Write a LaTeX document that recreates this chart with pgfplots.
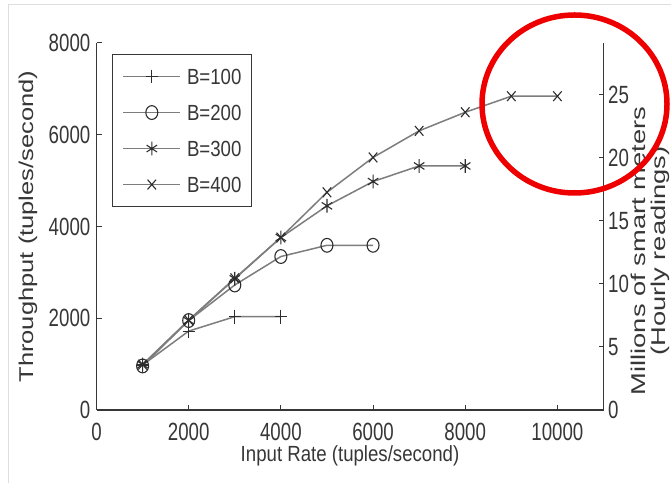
\documentclass[border=0pt]{standalone}
\usepackage{pgfplots}
\pgfplotsset{compat=1.18}
\usepackage{fontspec}
\setmainfont{Liberation Sans}
\newfontfamily\tickfont{Liberation Sans}[FakeStretch=0.75]
\newfontfamily\hfont{Liberation Sans}[FakeStretch=0.85]
\newfontfamily\yfont{Liberation Sans}[FakeStretch=1.28]
\newfontfamily\rfont{Liberation Sans}[FakeStretch=1.37]
\definecolor{axisc}{RGB}{55,55,55}
\definecolor{linec}{RGB}{125,125,125}
\definecolor{markc}{RGB}{45,45,45}
\definecolor{reda}{RGB}{238,0,0}
\pgfplotsset{
  common/.style={
    at={(96.5bp,73bp)}, anchor=south west,
    scale only axis, width=507bp, height=367bp,
    xmin=0, xmax=11000,
    axis line style={axisc, line width=1.1bp},
    every tick/.style={axisc, line width=1bp},
    major tick length=5bp, tick align=inside,
    scaled ticks=false,
    /pgf/number format/1000 sep={},
    /pgf/number format/assume math mode=true,
    tick label style={font=\fontsize{25}{25}\tickfont, text=axisc, inner sep=0pt},
  },
  ser/.style={linec, line width=1.5bp, mark size=6bp,
    mark options={markc, solid, line width=1.1bp, yscale=1.15}},
}
\begin{document}
\begin{tikzpicture}[x=1bp,y=1bp]
\useasboundingbox (0,0) rectangle (671,483);
\fill[white] (0,0) rectangle (671,483);
\draw[black!13, line width=1bp] (8,0) -- (8,478) -- (671,478);
\begin{axis}[common,
  ymin=0, ymax=8000,
  axis x line*=bottom, axis y line*=left,
  xtick={0,2000,...,10000}, ytick={0,2000,...,8000},
  xticklabel style={yshift=-13bp},
  yticklabel style={xshift=-6bp},
  xlabel={Input Rate (tuples/second)},
  xlabel style={at={(axis description cs:0.5,-0.0955)}, anchor=north,
    inner sep=0pt, font=\fontsize{22}{22}\hfont, text=axisc},
  ylabel={Throughput (tuples/second)},
  ylabel style={at={(axis description cs:-0.135,0.5)}, anchor=center,
    font=\fontsize{20}{20}\yfont, text=axisc},
  legend style={at={(axis description cs:0.0306,0.970)}, anchor=north west,
    draw=axisc, line width=1.1bp, fill=white,
    font=\fontsize{22}{22}\hfont, text=axisc,
    inner xsep=10bp, inner ysep=14bp, row sep=20bp, column sep=6bp,
    nodes={inner sep=0pt, text height=16bp, text depth=0bp}},
  legend cell align=left,
  legend image code/.code={\draw[#1, mark repeat=2, mark phase=2]
     plot coordinates {(0bp,0bp) (28.5bp,0bp) (57bp,0bp)};},
]
\addplot[ser, mark=+] coordinates {
 (1000,980) (2000,1720) (3000,2035) (4000,2035)};
\addlegendentry{B=100}
\addplot[ser, mark=o] coordinates {
 (1000,960) (2000,1950) (3000,2725) (4000,3345) (5000,3590) (6000,3590)};
\addlegendentry{B=200}
\addplot[ser, mark=asterisk] coordinates {
 (1000,990) (2000,1950) (3000,2860) (4000,3760) (5000,4450) (6000,4980) (7000,5320) (8000,5320)};
\addlegendentry{B=300}
\addplot[ser, mark=x] coordinates {
 (1000,990) (2000,1960) (3000,2870) (4000,3760) (5000,4745) (6000,5505) (7000,6085) (8000,6490) (9000,6840) (10000,6840)};
\addlegendentry{B=400}
\end{axis}
\begin{axis}[common,
  ymin=0, ymax=29.1,
  axis y line*=right, axis x line=none,
  ytick={0,5,...,25},
  yticklabel style={xshift=4.5bp},
  ylabel={Millions of smart meters\\(Hourly readings)},
  ylabel style={at={(axis description cs:1.092,0.433)}, anchor=center,
    rotate=0, align=center, font=\fontsize{20}{20}\rfont, text=axisc},
]
\addplot[draw=none] coordinates {(0,0)};
\end{axis}
\draw[reda, line width=5.5bp] (574.5,379) ellipse [x radius=92.5bp, y radius=89bp];
\end{tikzpicture}
\end{document}
